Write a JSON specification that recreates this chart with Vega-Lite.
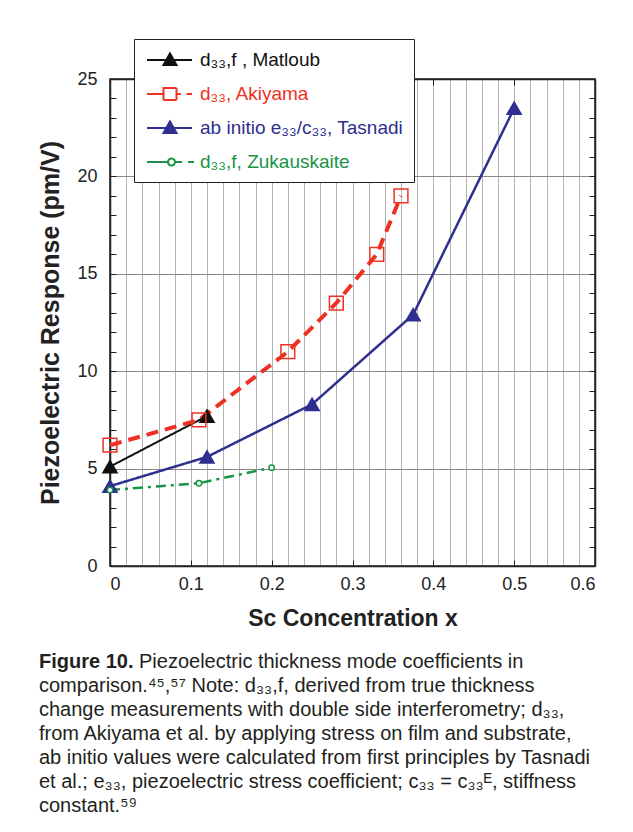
{
  "$schema": "https://vega.github.io/schema/vega-lite/v6.json",
  "width": 485,
  "height": 487,
  "padding": {"left": 38, "top": 38, "right": 5, "bottom": 5},
  "background": "white",
  "title": {
    "text": "Figure 10.",
    "subtitle": [
      "\u200b\u00a0\u00a0\u00a0\u00a0\u00a0\u00a0\u00a0\u00a0\u00a0\u00a0\u00a0\u00a0\u00a0\u00a0\u00a0\u00a0\u00a0\u00a0Piezoelectric thickness mode coefficients in",
      "comparison.⁴⁵,⁵⁷ Note: d₃₃,f, derived from true thickness",
      "change measurements with double side interferometry; d₃₃,",
      "from Akiyama et al. by applying stress on film and substrate,",
      "ab initio values were calculated from first principles by Tasnadi",
      "et al.; e₃₃, piezoelectric stress coefficient; c₃₃ = c₃₃ᴱ, stiffness",
      "constant.⁵⁹"
    ],
    "orient": "bottom",
    "anchor": "start",
    "frame": "bounds",
    "align": "left",
    "offset": 22,
    "font": "Liberation Sans",
    "fontSize": 20,
    "fontWeight": "bold",
    "color": "#231f20",
    "subtitleFont": "Liberation Sans",
    "subtitleFontSize": 20,
    "subtitleFontWeight": "normal",
    "subtitleColor": "#231f20",
    "subtitleLineHeight": 24,
    "subtitlePadding": -20
  },
  "data": {
    "values": [
      {"series": "Matloub", "x": 0, "y": 5.1},
      {"series": "Matloub", "x": 0.12, "y": 7.7},
      {"series": "Akiyama", "x": 0, "y": 6.2},
      {"series": "Akiyama", "x": 0.11, "y": 7.5},
      {"series": "Akiyama", "x": 0.22, "y": 11.0},
      {"series": "Akiyama", "x": 0.28, "y": 13.5},
      {"series": "Akiyama", "x": 0.33, "y": 16.0},
      {"series": "Akiyama", "x": 0.36, "y": 19.0},
      {"series": "Tasnadi", "x": 0, "y": 4.1},
      {"series": "Tasnadi", "x": 0.12, "y": 5.6},
      {"series": "Tasnadi", "x": 0.25, "y": 8.3},
      {"series": "Tasnadi", "x": 0.375, "y": 12.9},
      {"series": "Tasnadi", "x": 0.5, "y": 23.5},
      {"series": "Zukauskaite", "x": 0, "y": 3.9},
      {"series": "Zukauskaite", "x": 0.11, "y": 4.25},
      {"series": "Zukauskaite", "x": 0.2, "y": 5.05}
    ]
  },
  "layer": [
    {
      "mark": {"type": "line", "strokeCap": "butt"},
      "encoding": {
        "x": {
          "field": "x", "type": "quantitative",
          "scale": {"domain": [0, 0.6], "nice": false, "zero": false},
          "axis": {
            "orient": "bottom",
            "title": "Sc Concentration x",
            "titleFont": "Liberation Sans", "titleFontSize": 23, "titleFontWeight": "bold", "titleColor": "#222", "titlePadding": 14,
            "values": [0,0.02,0.04,0.06,0.08,0.1,0.12,0.14,0.16,0.18,0.2,0.22,0.24,0.26,0.28,0.3,0.32,0.34,0.36,0.38,0.4,0.42,0.44,0.46,0.48,0.5,0.52,0.54,0.56,0.58,0.6],
            "format": "~g",
            "labelExpr": "abs(datum.value*10 - round(datum.value*10)) < 0.000001 ? datum.label : ''",
            "labelFont": "Liberation Sans", "labelFontSize": 18, "labelColor": "#222", "labelPadding": 15,
            "grid": true, "gridColor": "#666", "gridDash": [1, 1], "gridWidth": 1,
            "ticks": true, "tickSize": -6, "tickColor": "#222", "tickWidth": 1,
            "tickOpacity": {"condition": {"test": "abs(datum.value*10 - round(datum.value*10)) < 0.000001", "value": 1}, "value": 0},
            "domainColor": "#222", "domainWidth": 1.5
          }
        },
        "y": {
          "field": "y", "type": "quantitative",
          "scale": {"domain": [0, 25], "nice": false, "zero": false},
          "axis": {
            "orient": "left",
            "title": "Piezoelectric Response (pm/V)",
            "titleFont": "Liberation Sans", "titleFontSize": 25, "titleFontWeight": "bold", "titleColor": "#222", "titlePadding": 13,
            "values": [0,1,2,3,4,5,6,7,8,9,10,11,12,13,14,15,16,17,18,19,20,21,22,23,24,25],
            "labelExpr": "datum.value % 5 === 0 ? datum.label : ''",
            "labelFont": "Liberation Sans", "labelFontSize": 18, "labelColor": "#222", "labelPadding": 19,
            "grid": true, "gridColor": "#888", "gridWidth": 1,
            "gridOpacity": {"condition": {"test": "datum.value % 5 === 0", "value": 1}, "value": 0},
            "ticks": true, "tickSize": -6, "tickColor": "#222", "tickWidth": 1,
            "domainColor": "#222", "domainWidth": 1.5
          }
        },
        "color": {
          "field": "series", "type": "nominal",
          "scale": {"domain": ["Matloub", "Akiyama", "Tasnadi", "Zukauskaite"], "range": ["#111111", "#ee3124", "#2e2f8f", "#199447"]},
          "legend": {
            "orient": "none", "legendX": 24, "legendY": -40, "title": null,
            "labelFont": "Liberation Sans", "labelFontSize": 19, "labelLimit": 0,
            "symbolSize": 400, "labelOffset": 34, "rowPadding": 13, "padding": 10,
            "strokeColor": "#222", "fillColor": "white",
            "labelExpr": "datum.label === 'Matloub' ? 'd₃₃,f , Matloub' : datum.label === 'Akiyama' ? 'd₃₃, Akiyama' : datum.label === 'Tasnadi' ? 'ab initio e₃₃/c₃₃, Tasnadi' : 'd₃₃,f, Zukauskaite'",
            "encode": {
              "symbols": {
                "update": {
                  "shape": {"signal": "datum.value === 'Akiyama' ? 'M-0.8,0H0.85M2.15,0H2.6M3.15,0H3.7M0.85,-0.6H2.15V0.6H0.85Z' : datum.value === 'Zukauskaite' ? 'M-0.8,0H1.3M2,0H2.7M3.3,0H3.9M2,0A0.35,0.35 0 1,1 1.3,0A0.35,0.35 0 1,1 2,0Z' : 'M-0.8,0H3.7M1.5,-0.65L2.15,0.5L0.85,0.5Z'"},
                  "fill": {"signal": "datum.value === 'Akiyama' ? 'transparent' : datum.value === 'Zukauskaite' ? 'white' : scale('color', datum.value)"},
                  "stroke": {"scale": "color", "field": "value"},
                  "strokeWidth": {"value": 2},
                  "strokeDash": {"value": [1, 0]},
                  "opacity": {"value": 1},
                  "size": {"value": 400}
                }
              },
              "labels": {
                "update": {
                  "fill": {"scale": "color", "field": "value"}
                }
              }
            }
          }
        },
        "strokeDash": {
          "condition": [
            {"test": "datum.series === 'Akiyama'", "value": [12, 7]},
            {"test": "datum.series === 'Zukauskaite'", "value": [10, 5, 3, 5]}
          ],
          "value": [1, 0]
        },
        "strokeWidth": {
          "condition": [
            {"test": "datum.series === 'Akiyama'", "value": 4},
            {"test": "datum.series === 'Matloub'", "value": 2}
          ],
          "value": 2.5
        }
      }
    },
    {
      "mark": {"type": "point", "filled": false, "strokeWidth": 1.5, "opacity": 1},
      "encoding": {
        "x": {
          "field": "x", "type": "quantitative",
          "scale": {"domain": [0, 0.6], "nice": false, "zero": false},
          "axis": {
            "orient": "top", "title": null, "labels": false, "grid": false,
            "values": [0, 0.1, 0.2, 0.3, 0.4, 0.5, 0.6],
            "ticks": true, "tickSize": -6, "tickColor": "#222",
            "domainColor": "#222", "domainWidth": 1.5
          }
        },
        "y": {
          "field": "y", "type": "quantitative",
          "scale": {"domain": [0, 25], "nice": false, "zero": false},
          "axis": {
            "orient": "right", "title": null, "labels": false, "grid": false,
            "values": [0,1,2,3,4,5,6,7,8,9,10,11,12,13,14,15,16,17,18,19,20,21,22,23,24,25],
            "ticks": true, "tickSize": -6, "tickColor": "#222",
            "domainColor": "#222", "domainWidth": 1.5
          }
        },
        "color": {"field": "series", "type": "nominal"},
        "shape": {
          "condition": [
            {"test": "datum.series === 'Akiyama'", "value": "square"},
            {"test": "datum.series === 'Zukauskaite'", "value": "circle"}
          ],
          "value": "triangle-up"
        },
        "fill": {
          "condition": [
            {"test": "datum.series === 'Akiyama'", "value": "transparent"},
            {"test": "datum.series === 'Zukauskaite'", "value": "white"},
            {"test": "datum.series === 'Matloub'", "value": "#111111"}
          ],
          "value": "#2e2f8f"
        },
        "size": {
          "condition": [
            {"test": "datum.series === 'Zukauskaite'", "value": 30},
            {"test": "datum.series === 'Akiyama'", "value": 190}
          ],
          "value": 200
        }
      }
    }
  ],
  "resolve": {"scale": {"x": "independent", "y": "independent"}},
  "config": {
    "view": {"stroke": "#222", "strokeWidth": 1.5},
    "font": "Liberation Sans"
  }
}
